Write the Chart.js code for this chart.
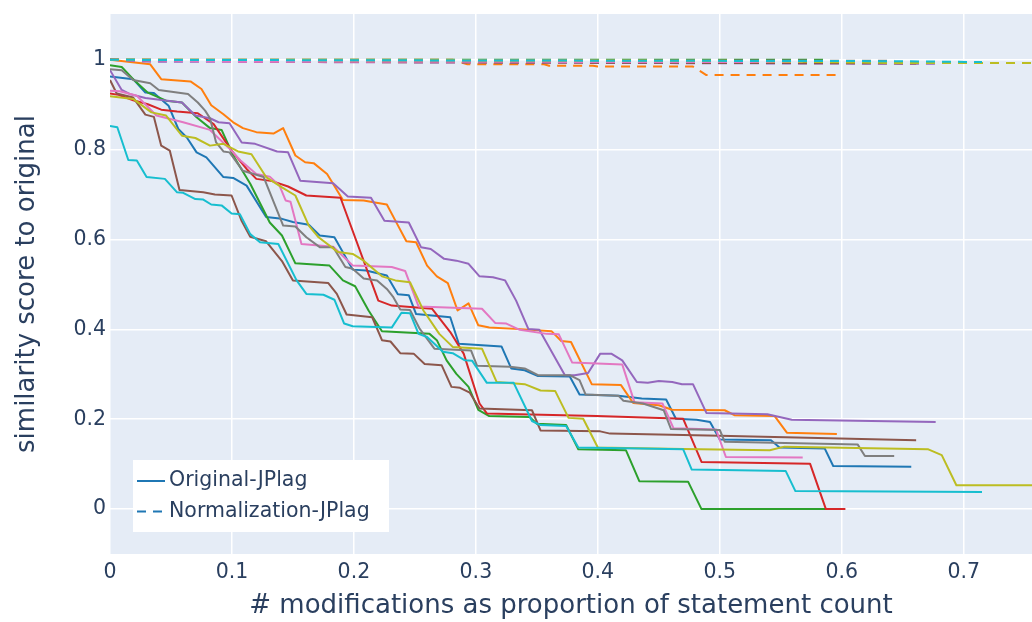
<!DOCTYPE html>
<html>
<head>
<meta charset="utf-8">
<title>Similarity vs. modifications</title>
<script src="https://cdn.jsdelivr.net/npm/chart.js@4.4.0/dist/chart.umd.min.js"></script>
<style>
  body { margin: 0; background: #fff; }
  #wrap { width: 1032px; height: 622px; }
</style>
</head>
<body>
<div id="wrap"><canvas id="sim-chart" width="1032" height="622"></canvas></div>
<script>
// x = modifications / statement count, y = similarity score to the original program
const xTicks = [0, 0.1, 0.2, 0.3, 0.4, 0.5, 0.6, 0.7];
const yTicks = [0, 0.2, 0.4, 0.6, 0.8, 1];

// Original-JPlag runs (one per program)
const o0x = [0, 0.019, 0.029, 0.036, 0.048, 0.056, 0.063, 0.071, 0.079, 0.093, 0.101, 0.112, 0.128, 0.141, 0.150, 0.163, 0.172, 0.184, 0.199, 0.210, 0.227, 0.236, 0.245, 0.251, 0.279, 0.286, 0.321, 0.329, 0.340, 0.351, 0.377, 0.385, 0.417, 0.436, 0.456, 0.464, 0.481, 0.492, 0.500, 0.542, 0.549, 0.586, 0.593, 0.657];
const o0y = [0.963, 0.957, 0.927, 0.926, 0.898, 0.846, 0.827, 0.794, 0.783, 0.739, 0.737, 0.720, 0.650, 0.646, 0.639, 0.633, 0.609, 0.605, 0.533, 0.531, 0.520, 0.478, 0.476, 0.434, 0.427, 0.368, 0.362, 0.313, 0.309, 0.296, 0.295, 0.255, 0.252, 0.246, 0.244, 0.201, 0.199, 0.194, 0.155, 0.153, 0.137, 0.135, 0.096, 0.094];

const o1x = [0, 0.033, 0.042, 0.066, 0.075, 0.083, 0.093, 0.101, 0.109, 0.120, 0.134, 0.142, 0.152, 0.160, 0.167, 0.178, 0.191, 0.208, 0.216, 0.227, 0.234, 0.243, 0.251, 0.260, 0.268, 0.277, 0.285, 0.294, 0.302, 0.311, 0.340, 0.362, 0.370, 0.378, 0.395, 0.419, 0.429, 0.450, 0.461, 0.504, 0.512, 0.545, 0.555, 0.596];
const o1y = [1.0, 0.990, 0.957, 0.952, 0.935, 0.899, 0.879, 0.861, 0.848, 0.839, 0.836, 0.848, 0.787, 0.772, 0.770, 0.746, 0.688, 0.687, 0.683, 0.678, 0.642, 0.596, 0.594, 0.542, 0.518, 0.503, 0.442, 0.458, 0.409, 0.404, 0.400, 0.396, 0.374, 0.372, 0.278, 0.276, 0.236, 0.231, 0.221, 0.220, 0.209, 0.207, 0.170, 0.167];

const o2x = [0, 0.0096, 0.019, 0.031, 0.046, 0.059, 0.071, 0.082, 0.0915, 0.101, 0.115, 0.131, 0.141, 0.152, 0.180, 0.191, 0.201, 0.212, 0.223, 0.262, 0.268, 0.276, 0.284, 0.294, 0.302, 0.311, 0.344, 0.350, 0.374, 0.384, 0.423, 0.434, 0.474, 0.485, 0.587];
const o2y = [0.988, 0.984, 0.957, 0.927, 0.909, 0.905, 0.872, 0.848, 0.844, 0.787, 0.724, 0.638, 0.609, 0.547, 0.542, 0.509, 0.496, 0.442, 0.396, 0.390, 0.376, 0.331, 0.301, 0.272, 0.221, 0.207, 0.205, 0.190, 0.187, 0.133, 0.131, 0.062, 0.061, 0.0, 0.0];

const o3x = [0, 0.007, 0.019, 0.031, 0.042, 0.055, 0.072, 0.085, 0.0997, 0.112, 0.120, 0.133, 0.146, 0.161, 0.189, 0.220, 0.231, 0.264, 0.279, 0.290, 0.303, 0.309, 0.399, 0.470, 0.485, 0.574, 0.587, 0.603];
const o3y = [0.925, 0.922, 0.910, 0.901, 0.889, 0.885, 0.881, 0.857, 0.798, 0.757, 0.735, 0.730, 0.718, 0.698, 0.693, 0.464, 0.453, 0.446, 0.394, 0.346, 0.235, 0.213, 0.207, 0.201, 0.105, 0.101, 0.0, 0.0];

const o4x = [0, 0.0096, 0.016, 0.029, 0.059, 0.070, 0.082, 0.089, 0.098, 0.108, 0.119, 0.137, 0.146, 0.156, 0.183, 0.195, 0.214, 0.225, 0.245, 0.255, 0.263, 0.274, 0.284, 0.294, 0.303, 0.314, 0.324, 0.333, 0.343, 0.352, 0.373, 0.381, 0.392, 0.402, 0.411, 0.420, 0.432, 0.441, 0.450, 0.461, 0.469, 0.478, 0.489, 0.539, 0.559, 0.677];
const o4y = [0.977, 0.933, 0.924, 0.915, 0.905, 0.876, 0.870, 0.861, 0.859, 0.816, 0.813, 0.796, 0.794, 0.731, 0.725, 0.696, 0.693, 0.642, 0.638, 0.583, 0.579, 0.557, 0.553, 0.546, 0.518, 0.516, 0.509, 0.464, 0.401, 0.399, 0.298, 0.298, 0.303, 0.346, 0.346, 0.331, 0.283, 0.281, 0.285, 0.283, 0.278, 0.278, 0.214, 0.211, 0.199, 0.194];

const o5x = [0, 0.0055, 0.019, 0.029, 0.036, 0.042, 0.049, 0.057, 0.0765, 0.086, 0.0997, 0.108, 0.115, 0.128, 0.141, 0.150, 0.179, 0.186, 0.194, 0.215, 0.223, 0.230, 0.238, 0.249, 0.258, 0.272, 0.280, 0.287, 0.295, 0.303, 0.346, 0.353, 0.402, 0.410, 0.500, 0.661];
const o5y = [0.955, 0.925, 0.916, 0.878, 0.873, 0.809, 0.798, 0.710, 0.705, 0.700, 0.698, 0.641, 0.606, 0.596, 0.552, 0.509, 0.503, 0.479, 0.433, 0.427, 0.376, 0.373, 0.347, 0.346, 0.323, 0.320, 0.272, 0.270, 0.259, 0.224, 0.220, 0.175, 0.173, 0.168, 0.163, 0.153];

const o6x = [0, 0.008, 0.022, 0.038, 0.060, 0.082, 0.097, 0.107, 0.120, 0.131, 0.139, 0.144, 0.148, 0.157, 0.183, 0.199, 0.231, 0.242, 0.253, 0.305, 0.316, 0.325, 0.336, 0.358, 0.368, 0.379, 0.420, 0.430, 0.453, 0.462, 0.497, 0.505, 0.568];
const o6y = [0.931, 0.930, 0.920, 0.876, 0.861, 0.844, 0.805, 0.776, 0.746, 0.740, 0.720, 0.687, 0.684, 0.590, 0.584, 0.542, 0.539, 0.530, 0.451, 0.446, 0.414, 0.413, 0.399, 0.390, 0.389, 0.326, 0.322, 0.238, 0.235, 0.180, 0.177, 0.116, 0.115];

const o7x = [0, 0.0096, 0.019, 0.033, 0.040, 0.064, 0.072, 0.078, 0.082, 0.087, 0.093, 0.098, 0.109, 0.126, 0.142, 0.152, 0.161, 0.172, 0.183, 0.193, 0.199, 0.208, 0.219, 0.227, 0.232, 0.238, 0.246, 0.254, 0.266, 0.296, 0.301, 0.328, 0.340, 0.351, 0.377, 0.385, 0.390, 0.417, 0.421, 0.437, 0.454, 0.460, 0.500, 0.504, 0.613, 0.619, 0.643];
const o7y = [0.979, 0.977, 0.955, 0.948, 0.933, 0.924, 0.905, 0.887, 0.870, 0.816, 0.796, 0.794, 0.753, 0.739, 0.631, 0.629, 0.605, 0.583, 0.583, 0.539, 0.535, 0.513, 0.509, 0.490, 0.473, 0.444, 0.443, 0.401, 0.357, 0.353, 0.319, 0.317, 0.313, 0.298, 0.298, 0.287, 0.255, 0.252, 0.241, 0.235, 0.220, 0.178, 0.176, 0.150, 0.144, 0.118, 0.118];

const o8x = [0, 0.019, 0.034, 0.046, 0.059, 0.070, 0.082, 0.093, 0.105, 0.116, 0.128, 0.141, 0.152, 0.163, 0.171, 0.187, 0.199, 0.208, 0.223, 0.234, 0.246, 0.257, 0.270, 0.281, 0.305, 0.317, 0.340, 0.353, 0.365, 0.376, 0.388, 0.400, 0.470, 0.541, 0.553, 0.671, 0.682, 0.694, 0.756];
const o8y = [0.919, 0.913, 0.883, 0.876, 0.831, 0.826, 0.809, 0.813, 0.796, 0.790, 0.739, 0.716, 0.698, 0.631, 0.605, 0.572, 0.568, 0.553, 0.518, 0.509, 0.505, 0.442, 0.390, 0.361, 0.357, 0.283, 0.278, 0.264, 0.263, 0.203, 0.201, 0.137, 0.134, 0.131, 0.139, 0.133, 0.120, 0.053, 0.053];

const o9x = [0, 0.006, 0.015, 0.022, 0.030, 0.045, 0.055, 0.060, 0.070, 0.0765, 0.083, 0.0915, 0.0997, 0.1066, 0.115, 0.123, 0.138, 0.153, 0.161, 0.175, 0.184, 0.192, 0.199, 0.231, 0.239, 0.246, 0.253, 0.260, 0.273, 0.281, 0.291, 0.297, 0.309, 0.331, 0.346, 0.353, 0.374, 0.384, 0.470, 0.477, 0.554, 0.562, 0.715];
const o9y = [0.853, 0.850, 0.777, 0.776, 0.739, 0.735, 0.705, 0.704, 0.690, 0.689, 0.678, 0.676, 0.658, 0.656, 0.612, 0.594, 0.590, 0.509, 0.479, 0.477, 0.466, 0.413, 0.407, 0.404, 0.437, 0.436, 0.390, 0.383, 0.350, 0.347, 0.331, 0.330, 0.281, 0.281, 0.196, 0.187, 0.185, 0.137, 0.133, 0.088, 0.085, 0.040, 0.038];

// Normalization-JPlag runs (same programs)
const n0x = [0, 0.15, 0.657];
const n0y = [1.0, 0.997, 0.995];
const n1x = [0, 0.281, 0.293, 0.356, 0.360, 0.396, 0.400, 0.478, 0.489, 0.596];
const n1y = [1.0, 1.0, 0.990, 0.990, 0.987, 0.987, 0.985, 0.985, 0.966, 0.966];
const n2x = [0, 0.587];
const n2y = [1.0, 1.0];
const n3x = [0, 0.2, 0.603];
const n3y = [1.0, 0.997, 0.996];
const n4x = [0, 0.03, 0.677];
const n4y = [1.0, 0.996, 0.991];
const n5x = [0, 0.2, 0.661];
const n5y = [1.0, 0.995, 0.992];
const n6x = [0, 0.1, 0.568];
const n6y = [1.0, 0.996, 0.995];
const n7x = [0, 0.643];
const n7y = [1.0, 0.998];
const n8x = [0, 0.5, 0.64, 0.756];
const n8y = [1.0, 0.998, 0.993, 0.993];
const n9x = [0, 0.64, 0.715];
const n9y = [1.0, 0.997, 0.995];

const colors = ['#1f77b4', '#ff7f0e', '#2ca02c', '#d62728', '#9467bd',
                '#8c564b', '#e377c2', '#7f7f7f', '#bcbd22', '#17becf'];

const originalRuns = [[o0x, o0y], [o1x, o1y], [o2x, o2y], [o3x, o3y], [o4x, o4y],
                      [o5x, o5y], [o6x, o6y], [o7x, o7y], [o8x, o8y], [o9x, o9y]];
const normalizedRuns = [[n0x, n0y], [n1x, n1y], [n2x, n2y], [n3x, n3y], [n4x, n4y],
                        [n5x, n5y], [n6x, n6y], [n7x, n7y], [n8x, n8y], [n9x, n9y]];

const toPoints = (xs, ys) => xs.map((x, i) => ({ x: x, y: ys[i] }));

const makeLine = (label, xs, ys, color, dash) => ({
  label: label,
  data: toPoints(xs, ys),
  borderColor: color,
  backgroundColor: color,
  borderWidth: 2,
  borderDash: dash,
  borderJoinStyle: 'round',
  pointRadius: 0,
  tension: 0,
  fill: false
});

const datasets = [];
originalRuns.forEach(([xs, ys], i) => datasets.push(makeLine('Original-JPlag', xs, ys, colors[i], [])));
normalizedRuns.forEach(([xs, ys], i) => datasets.push(makeLine('Normalization-JPlag', xs, ys, colors[i], [9, 7])));
// later traces sit on top
datasets.forEach((d, i) => { d.order = datasets.length - i; });

const textColor = '#2a3f5f';
const fontFamily = '"DejaVu Sans", Verdana, sans-serif';
Chart.defaults.font.family = fontFamily;
Chart.defaults.color = textColor;

// plot background
const plotBackground = {
  id: 'plotBackground',
  beforeDraw(chart) {
    const { ctx, chartArea: a } = chart;
    ctx.save();
    ctx.fillStyle = '#e5ecf6';
    ctx.fillRect(a.left, a.top, a.right - a.left, a.bottom - a.top);
    ctx.restore();
  }
};

// legend box in the lower left corner of the plot
const insideLegend = {
  id: 'insideLegend',
  afterDraw(chart) {
    const { ctx, chartArea: a } = chart;
    const shown = [chart.data.datasets[0], chart.data.datasets[10]];
    const left = a.left + 23, top = a.bottom - 94;
    ctx.save();
    ctx.fillStyle = '#ffffff';
    ctx.fillRect(left, top, 256, 72);
    shown.forEach((ds, i) => {
      const y = top + 21 + i * 30.5;
      ctx.strokeStyle = ds.borderColor;
      ctx.lineWidth = 2;
      ctx.setLineDash(ds.borderDash);
      ctx.beginPath();
      ctx.moveTo(left + 4, y);
      ctx.lineTo(left + 32, y);
      ctx.stroke();
      ctx.setLineDash([]);
      ctx.fillStyle = textColor;
      ctx.font = '20.5px ' + fontFamily;
      ctx.textBaseline = 'middle';
      ctx.textAlign = 'left';
      ctx.fillText(ds.label, left + 36, y);
    });
    ctx.restore();
  }
};

const fmt = v => Number(v.toFixed(1)).toString();

new Chart(document.getElementById('sim-chart'), {
  type: 'line',
  data: { datasets: datasets },
  options: {
    responsive: false,
    animation: false,
    layout: { padding: { top: 14, right: 0, bottom: 0, left: 0 } },
    plugins: {
      legend: { display: false },
      tooltip: { enabled: false }
    },
    scales: {
      x: {
        type: 'linear',
        min: 0,
        max: 0.756,
        afterBuildTicks: s => { s.ticks = xTicks.map(v => ({ value: v })); },
        afterFit: s => { s.height = 68; s.paddingLeft = 0; s.paddingRight = 0; },
        grid: { color: '#ffffff', lineWidth: 1.5, drawTicks: false },
        border: { display: false },
        ticks: { callback: fmt, font: { size: 20.5 }, padding: 6, maxRotation: 0 },
        title: {
          display: true,
          text: '# modifications as proportion of statement count',
          font: { size: 26 },
          padding: { top: 0, bottom: 0 }
        }
      },
      y: {
        type: 'linear',
        min: -0.1,
        max: 1.102,
        afterBuildTicks: s => { s.ticks = yTicks.map(v => ({ value: v })); },
        afterFit: s => { s.width = 110; s.paddingTop = 0; s.paddingBottom = 0; },
        grid: { color: '#ffffff', lineWidth: 1.5, drawTicks: false },
        border: { display: false },
        ticks: { callback: fmt, font: { size: 20.5 }, padding: 4 },
        title: {
          display: true,
          text: 'similarity score to original',
          font: { size: 26 },
          padding: { top: 12, bottom: 0 }
        }
      }
    }
  },
  plugins: [plotBackground, insideLegend]
});
</script>
</body>
</html>
